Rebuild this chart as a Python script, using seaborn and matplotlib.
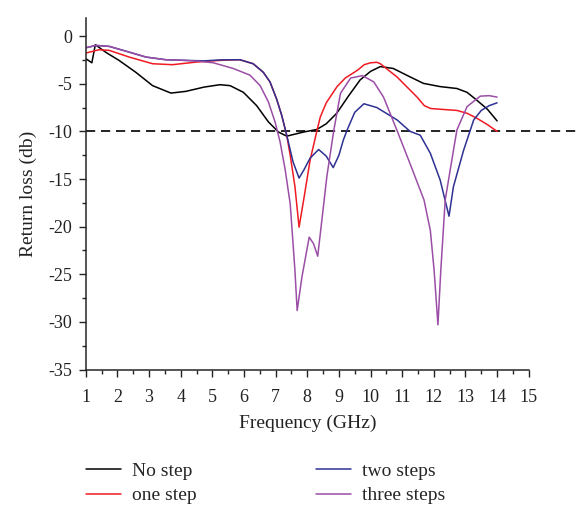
import numpy as np
import pandas as pd
import matplotlib
matplotlib.use("Agg")
import matplotlib.pyplot as plt
from matplotlib.ticker import MultipleLocator
import seaborn as sns

series_names = ["No step", "one step", "two steps", "three steps"]
series_colors = ["#000000", "#f01a22", "#2e3192", "#9b4ea6"]

no_step_x = [1.0, 1.19, 1.30, 1.63, 2.05, 2.58, 3.11, 3.69, 4.16, 4.74, 5.24, 5.56,
             5.98, 6.40, 6.77, 7.09, 7.35, 7.88, 8.30, 8.6, 8.93, 9.3, 9.67, 10.0,
             10.31, 10.72, 11.2, 11.67, 12.2, 12.73, 13.05, 13.35, 13.7, 14.0]
no_step_y = [-2.37, -2.8, -0.9, -1.7, -2.55, -3.8, -5.2, -5.98, -5.8, -5.35, -5.1, -5.2,
             -5.9, -7.3, -9.0, -10.07, -10.5, -10.07, -9.8, -9.2, -8.1, -6.3, -4.6, -3.7,
             -3.2, -3.4, -4.2, -4.96, -5.3, -5.5, -5.9, -6.7, -7.7, -8.9]

one_step_x = [1.0, 1.42, 1.74, 2.37, 3.11, 3.74, 4.48, 5.0, 5.5, 5.87, 6.29, 6.61,
              6.82, 7.03, 7.19, 7.35, 7.46, 7.61, 7.74, 7.9, 8.09, 8.30, 8.41, 8.6,
              8.94, 9.2, 9.58, 9.8, 10.0, 10.2, 10.31, 10.84, 11.47, 11.7, 11.9,
              12.3, 12.73, 13.05, 13.35, 13.7, 14.0]
one_step_y = [-1.78, -1.43, -1.5, -2.2, -2.9, -3.0, -2.73, -2.6, -2.5, -2.48, -2.9, -3.8,
              -4.8, -6.6, -8.3, -10.4, -12.5, -15.8, -20.05, -16.9, -13.0, -10.0, -8.5, -7.0,
              -5.3, -4.4, -3.6, -3.0, -2.8, -2.75, -2.9, -4.3, -6.4, -7.3, -7.6,
              -7.7, -7.8, -8.1, -8.6, -9.3, -10.0]

two_steps_x = [1.0, 1.32, 1.74, 2.37, 2.9, 3.53, 4.16, 4.74, 5.25, 5.87, 6.29, 6.61,
               6.82, 7.03, 7.19, 7.35, 7.55, 7.74, 7.9, 8.09, 8.36, 8.6, 8.82, 9.0,
               9.14, 9.26, 9.5, 9.79, 10.2, 10.84, 11.25, 11.57, 11.89, 12.2, 12.48,
               12.62, 12.94, 13.26, 13.5, 13.75, 14.0]
two_steps_y = [-1.22, -0.98, -1.08, -1.68, -2.2, -2.48, -2.55, -2.6, -2.5, -2.48, -2.9, -3.8,
               -4.8, -6.6, -8.3, -10.4, -13.2, -14.9, -14.0, -12.8, -11.9, -12.6, -13.8, -12.5,
               -10.9, -9.85, -8.0, -7.1, -7.5, -8.8, -10.0, -10.4, -12.3, -15.1, -18.9,
               -15.8, -12.0, -8.8, -7.8, -7.3, -7.0]

three_steps_x = [1.0, 1.32, 1.74, 2.37, 2.9, 3.53, 4.16, 4.6, 5.03, 5.66, 6.19, 6.51,
                 6.77, 6.98, 7.14, 7.3, 7.46, 7.61, 7.68, 7.83, 8.06, 8.2, 8.33, 8.62,
                 8.84, 9.05, 9.37, 9.74, 10.1, 10.41, 10.83, 11.25, 11.69, 11.89, 12.01,
                 12.13, 12.22, 12.36, 12.64, 12.73, 13.05, 13.47, 13.75, 14.0]
three_steps_y = [-1.22, -0.98, -1.08, -1.68, -2.2, -2.48, -2.55, -2.65, -2.8, -3.4, -4.1, -5.2,
                 -6.9, -9.0, -11.1, -14.0, -17.6, -24.6, -28.8, -25.3, -21.1, -21.8, -23.1, -14.7,
                 -9.85, -6.0, -4.4, -4.15, -4.8, -6.4, -9.85, -13.4, -17.2, -20.4, -24.6,
                 -30.3, -24.6, -17.2, -11.6, -9.85, -7.4, -6.3, -6.25, -6.4]

x_ticks = list(range(1, 16))
y_ticks = [0, -5, -10, -15, -20, -25, -30, -35]
threshold = -10

frames = []
for name, xs, ys in zip(series_names,
                        [no_step_x, one_step_x, two_steps_x, three_steps_x],
                        [no_step_y, one_step_y, two_steps_y, three_steps_y]):
    frames.append(pd.DataFrame({"Frequency": xs, "Return loss": ys, "Series": name}))
df = pd.concat(frames, ignore_index=True)

sns.set_style("ticks")
plt.rcParams["font.family"] = ["Liberation Serif", "DejaVu Serif"]

fig = plt.figure(figsize=(5.8, 5.07), dpi=100)
ax = fig.add_axes([0.148, 0.271, 0.7636, 0.6935])

sns.lineplot(data=df, x="Frequency", y="Return loss", hue="Series",
             hue_order=series_names, palette=series_colors, estimator=None,
             sort=False, linewidth=1.1, ax=ax, legend=True)

ax.plot([1, 16.5], [threshold, threshold], color="black", linestyle=(0, (5.5, 3.5)),
        linewidth=1.2, clip_on=False, zorder=0.5)

ax.set_xlim(1, 15)
ax.set_ylim(-35, 1.9)
ax.set_xticks(x_ticks)
ax.set_yticks(y_ticks)
ax.xaxis.set_minor_locator(MultipleLocator(0.5))
ax.yaxis.set_minor_locator(MultipleLocator(2.5))
ax.tick_params(axis="both", which="major", direction="out", length=5, width=1,
               labelsize=13, colors="#222222")
ax.tick_params(axis="x", which="major", pad=9)
ax.tick_params(axis="y", which="major", pad=5)
ax.tick_params(axis="both", which="minor", direction="out", length=3, width=1)
ax.set_yticklabels([str(v) for v in y_ticks])
for s in ["top", "right"]:
    ax.spines[s].set_visible(False)
for s in ["left", "bottom"]:
    ax.spines[s].set_linewidth(1.1)

ax.set_xlabel("Frequency (GHz)", fontsize=14, color="#222222", labelpad=6)
ax.set_ylabel("Return loss (db)", fontsize=14, color="#222222", labelpad=8)

handles, labels = ax.get_legend_handles_labels()
ax.get_legend().remove()
leg = fig.legend(handles, labels, loc="upper left", bbox_to_anchor=(0.1352, 0.1034),
                 ncol=2, frameon=False, fontsize=14, handlelength=1.8,
                 handletextpad=0.57, columnspacing=6.1, labelspacing=0.35,
                 borderaxespad=0)

fig.savefig("out.png", dpi=100)
